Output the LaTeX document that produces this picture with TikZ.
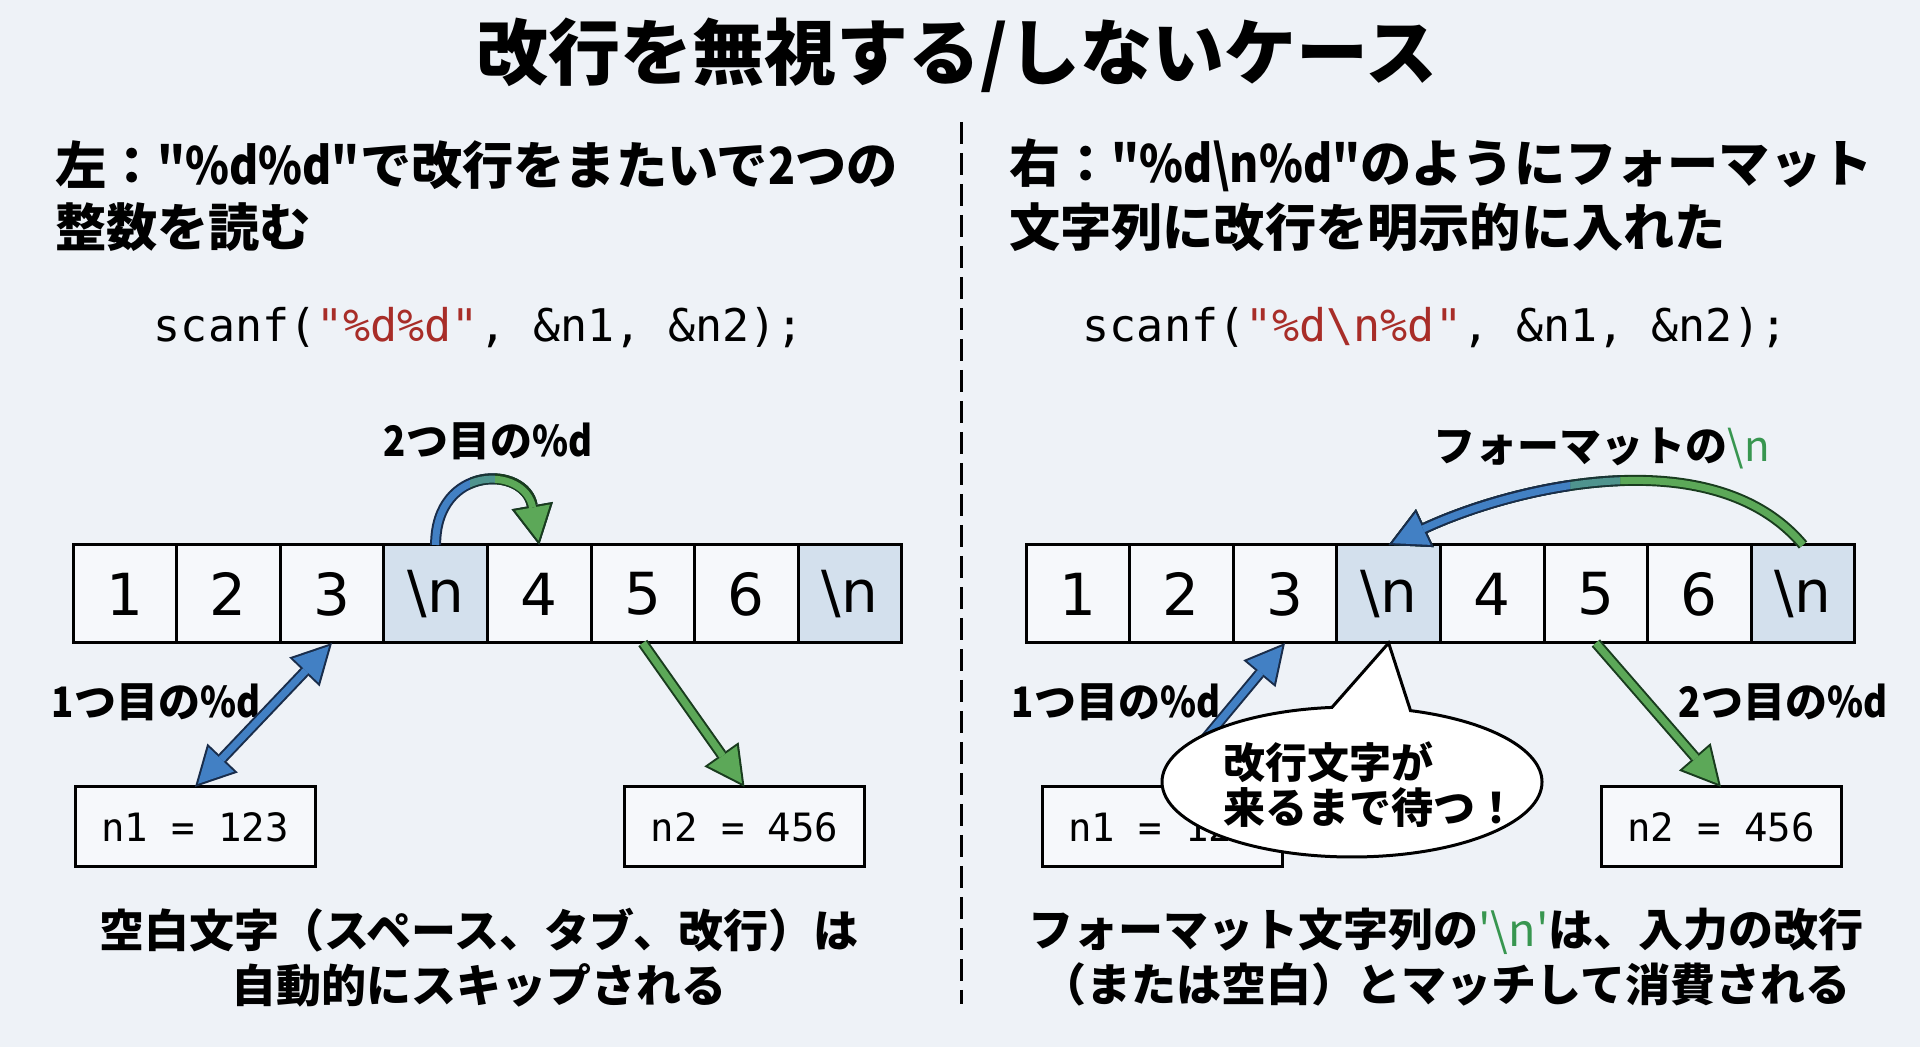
\documentclass[tikz,border=0pt]{standalone}
\usepackage{graphicx}
\usepackage{fontspec}
\setmainfont{Noto Sans CJK JP}[Ligatures=TeXOff]
\setmonofont{DejaVu Sans Mono}
\newfontfamily\cellfont{DejaVu Sans}
\usetikzlibrary{arrows.meta,shapes.callouts}

\definecolor{bgcol}{RGB}{238,242,247}
\definecolor{cellcol}{RGB}{246,248,251}
\definecolor{nlcol}{RGB}{211,224,237}
\definecolor{codered}{RGB}{168,45,40}
\definecolor{nlgreen}{RGB}{56,150,80}
\definecolor{bluefill}{RGB}{66,128,196}
\definecolor{blueline}{RGB}{25,45,75}
\definecolor{greenfill}{RGB}{92,168,88}
\definecolor{greenline}{RGB}{25,60,30}

\newcommand{\nar}[1]{\scalebox{0.87}[1]{#1}}

\begin{document}
\begin{tikzpicture}[x=0.5pt, y=0.5pt]
\tikzset{ >=latex, inner sep=0pt, outer sep=0pt,
  cell/.style={draw, line width=1.5pt, fill=cellcol, minimum width=51.8pt, minimum height=49pt, font=\cellfont\fontsize{29}{29}\selectfont},
  nlcell/.style={cell, fill=nlcol},
  val/.style={draw, line width=1.5pt, fill=cellcol, minimum width=120pt, minimum height=40pt, font=\ttfamily\fontsize{19.5}{19.5}\selectfont},
  lbl/.style={font=\bfseries\fontsize{21}{21}\selectfont},
  head/.style={anchor=west, font=\bfseries\fontsize{25.6}{25.6}\selectfont},
  code/.style={font=\ttfamily\fontsize{22.5}{22.5}\selectfont},
  foot/.style={align=center, font=\bfseries\fontsize{22.5}{27.5}\selectfont},
  bluearr/.style={line width=5.5pt, draw=blueline, -{Triangle[length=20pt,width=21pt,line width=0pt]},
    postaction={draw=bluefill, line width=3.5pt, shorten >=2.2pt, -{Triangle[length=16.8pt,width=17.6pt,line width=0pt]}}},
  greenarr/.style={line width=5.5pt, draw=greenline, -{Triangle[length=20pt,width=21pt,line width=0pt]},
    postaction={draw=greenfill, line width=3.5pt, shorten >=2.2pt, -{Triangle[length=16.8pt,width=17.6pt,line width=0pt]}}},
  mixarr/.style={line width=5.5pt, draw=blueline!50!greenline, -{Triangle[length=20pt,width=21pt,line width=0pt]},
    postaction={draw=bluefill!50!greenfill, line width=3.5pt, shorten >=2.2pt, -{Triangle[length=16.8pt,width=17.6pt,line width=0pt]}}},
  dblarr/.style={line width=5.5pt, draw=blueline, {Triangle[length=20pt,width=21pt,line width=0pt]}-{Triangle[length=20pt,width=21pt,line width=0pt]},
    postaction={draw=bluefill, line width=3.5pt, shorten >=2.2pt, shorten <=2.2pt, {Triangle[length=16.8pt,width=17.6pt,line width=0pt]}-{Triangle[length=16.8pt,width=17.6pt,line width=0pt]}}},
}

\fill [bgcol] (0,0) rectangle (1920,1047);
\useasboundingbox (0,0) rectangle (1920,1047);

%\draw [lightgray, dashed] (0,0) grid [step=100] (1920,1047);

\node [font=\bfseries\fontsize{36}{36}\selectfont] (T) at (957,992) {改行を無視する/しないケース};

\draw [line width=1.5pt, dash pattern=on 11pt off 4.5pt] (961,925) -- (961,43);

% left side
\node [head] (HL1) at (55,882) {左：\nar{"\%d\%d"}で改行をまたいで\nar{2}つの};
\node [head] (HL2) at (55,820) {整数を読む};
\node [code] (CL) at (479,719) {scanf(\textcolor{codered}{"\%d\%d"}, \&n1, \&n2);};

\foreach \t/\s [count=\i] in {1/cell, 2/cell, 3/cell, {\textbackslash n}/nlcell, 4/cell, 5/cell, 6/cell, {\textbackslash n}/nlcell} {
  \node [\s] (L\i) at (21.2+103.6*\i, 453) {\t};
}

\node [val] (N1L) at (195,220) {n1 = 123};
\node [val] (N2L) at (744.5,220) {n2 = 456};

\node [lbl] (SL) at (488,606) {\nar{2}つ目の\nar{\%d}};
\node [lbl] (FL) at (156,345) {\nar{1}つ目の\nar{\%d}};

\draw [bluearr] (L4.north) to [out=90, in=100, looseness=2.0] (L5.north);
\begin{scope}
  \clip (470,440) rectangle (495,620);
  \draw [mixarr] (L4.north) to [out=90, in=100, looseness=2.0] (L5.north);
\end{scope}
\begin{scope}
  \clip (495,440) rectangle (620,620);
  \draw [greenarr] (L4.north) to [out=90, in=100, looseness=2.0] (L5.north);
\end{scope}

\draw [dblarr] (L3.south) -- (N1L.north);
\draw [greenarr] (L6.south) -- (N2L.north);

\node [foot] (BL) at (479,89) {空白文字（スペース、タブ、改行）は\\自動的にスキップされる};

% right side
\node [head] (HR1) at (1009,882) {右：\nar{"\%d\textbackslash n\%d"}のようにフォーマット};
\node [head] (HR2) at (1009,820) {文字列に改行を明示的に入れた};
\node [code] (CR) at (1435,719) {scanf(\textcolor{codered}{"\%d\textbackslash n\%d"}, \&n1, \&n2);};

\foreach \t/\s [count=\i] in {1/cell, 2/cell, 3/cell, {\textbackslash n}/nlcell, 4/cell, 5/cell, 6/cell, {\textbackslash n}/nlcell} {
  \node [\s] (R\i) at (974.2+103.6*\i, 453) {\t};
}

\node [val] (N1R) at (1162,220) {n1 = 123};
\node [val] (N2R) at (1721,220) {n2 = 456};

\node [lbl] (FMT) at (1602,599) {フォーマットの\textcolor{nlgreen}{\mdseries\textbackslash n}};
\node [lbl] (FR) at (1116,345) {\nar{1}つ目の\nar{\%d}};
\node [lbl] (SR) at (1783,345) {\nar{2}つ目の\nar{\%d}};

\draw [greenarr] (R8.north) to [out=130, in=25, looseness=0.86] (R4.north);
\begin{scope}
  \clip (1000,440) rectangle (1620,660);
  \draw [mixarr] (R8.north) to [out=130, in=25, looseness=0.86] (R4.north);
\end{scope}
\begin{scope}
  \clip (1000,440) rectangle (1570,660);
  \draw [bluearr] (R8.north) to [out=130, in=25, looseness=0.86] (R4.north);
\end{scope}

\coordinate (R1T) at (1200,302);
\draw [bluearr] (R1T) -- (R3.south);
\draw [greenarr] (R6.south) -- (N2R.north);

\node [ellipse callout, draw, line width=1.5pt, fill=white, minimum width=190pt, minimum height=75pt,
       callout absolute pointer={(R4.south)}, callout pointer arc=24] (B) at (1352,265) {};
\node [align=left, anchor=west, font=\bfseries\fontsize{21}{22.5}\selectfont] (BT) at (1223,262.5) {改行文字が\\来るまで待つ！};

\node [foot] (BR) at (1446,90) {フォーマット文字列の\textcolor{nlgreen}{\mdseries'\textbackslash n'}は、入力の改行\\（または空白）とマッチして消費される};

\end{tikzpicture}
\end{document}
